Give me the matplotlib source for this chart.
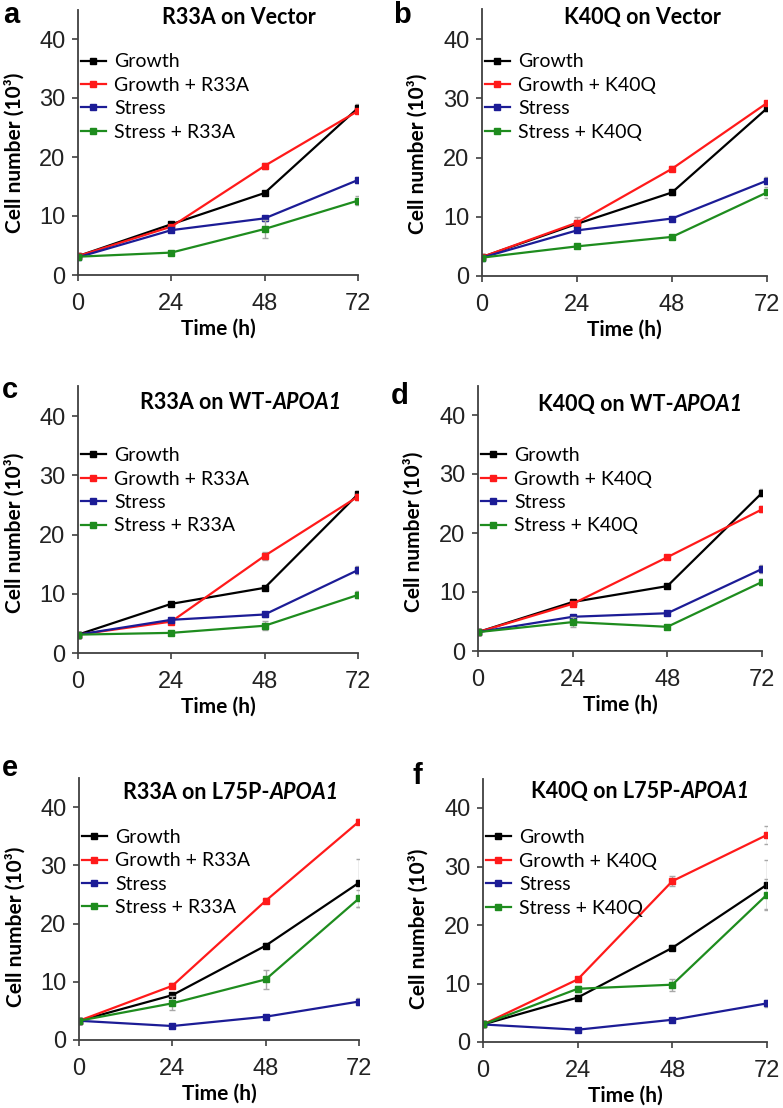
import matplotlib
matplotlib.use('Agg')
import matplotlib.pyplot as plt

# time points (h)
time_h = [0, 24, 48, 72]

# panel a: R33A on Vector
a_growth = [3.2, 8.6, 13.9, 28.3]
a_growth_mut = [3.2, 8.2, 18.5, 27.8]
a_stress = [3.0, 7.6, 9.6, 16.1]
a_stress_mut = [3.1, 3.8, 7.8, 12.6]
a_err = [[0.2, 0.4, 0.4, 0.6], [0.2, 0.3, 0.5, 0.4], [0.2, 0.3, 0.4, 0.5], [0.2, 0.3, 1.5, 0.8]]

# panel b: K40Q on Vector
b_growth = [3.2, 8.8, 14.1, 28.3]
b_growth_mut = [3.2, 9.0, 18.1, 29.2]
b_stress = [3.1, 7.7, 9.7, 16.1]
b_stress_mut = [3.1, 5.0, 6.6, 14.1]
b_err = [[0.2, 1.2, 0.4, 0.5], [0.2, 0.4, 0.4, 0.4], [0.2, 0.3, 0.3, 0.6], [0.2, 0.3, 0.4, 0.9]]

# panel c: R33A on WT-APOA1
c_growth = [3.1, 8.3, 11.0, 26.8]
c_growth_mut = [3.1, 5.3, 16.4, 26.4]
c_stress = [3.1, 5.6, 6.5, 14.0]
c_stress_mut = [3.1, 3.4, 4.6, 9.8]
c_err = [[0.2, 0.3, 0.3, 0.6], [0.2, 0.3, 0.7, 0.5], [0.2, 0.3, 0.4, 0.7], [0.2, 0.3, 0.8, 0.6]]

# panel d: K40Q on WT-APOA1
d_growth = [3.2, 8.3, 11.0, 26.8]
d_growth_mut = [3.2, 8.0, 15.9, 24.0]
d_stress = [3.2, 5.8, 6.4, 13.9]
d_stress_mut = [3.2, 4.9, 4.1, 11.7]
d_err = [[0.2, 0.3, 0.3, 0.6], [0.2, 0.3, 0.3, 0.5], [0.2, 0.3, 0.3, 0.7], [0.2, 0.8, 0.3, 0.5]]

# panel e: R33A on L75P-APOA1
e_growth = [3.3, 7.7, 16.2, 27.0]
e_growth_mut = [3.3, 9.3, 23.9, 37.5]
e_stress = [3.3, 2.4, 4.0, 6.6]
e_stress_mut = [3.3, 6.3, 10.4, 24.3]
e_err = [[0.2, 0.4, 0.4, 4.1], [0.2, 0.4, 0.4, 0.4], [0.2, 0.3, 0.3, 0.6], [0.2, 1.2, 1.6, 1.5]]

# panel f: K40Q on L75P-APOA1
f_growth = [3.0, 7.6, 16.1, 26.9]
f_growth_mut = [3.0, 10.7, 27.5, 35.4]
f_stress = [3.0, 2.1, 3.8, 6.6]
f_stress_mut = [3.0, 9.1, 9.8, 25.2]
f_err = [[0.2, 0.4, 0.4, 4.2], [0.2, 0.4, 0.8, 1.6], [0.2, 0.3, 0.3, 0.6], [0.2, 0.5, 1.0, 2.6]]

letters = ['a', 'b', 'c', 'd', 'e', 'f']
mutants = ['R33A', 'K40Q', 'R33A', 'K40Q', 'R33A', 'K40Q']
# title: upright bold part, bold-italic gene part
title_main = ['R33A on Vector', 'K40Q on Vector', 'R33A on WT-', 'K40Q on WT-',
              'R33A on L75P-', 'K40Q on L75P-']
title_gene = ['', '', 'APOA1', 'APOA1', 'APOA1', 'APOA1']

panels = [
    (a_growth, a_growth_mut, a_stress, a_stress_mut, a_err),
    (b_growth, b_growth_mut, b_stress, b_stress_mut, b_err),
    (c_growth, c_growth_mut, c_stress, c_stress_mut, c_err),
    (d_growth, d_growth_mut, d_stress, d_stress_mut, d_err),
    (e_growth, e_growth_mut, e_stress, e_stress_mut, e_err),
    (f_growth, f_growth_mut, f_stress, f_stress_mut, f_err),
]

colors = ['#000000', '#ff1a1a', '#1c1c96', '#1e8c1e']

W, H = 783, 1108
# axes boxes in pixels: left, right, y of zero, pixels per unit
boxes = [(78, 358, 275, 5.9), (482, 767, 276, 5.925),
         (78, 358, 653, 5.925), (478, 762, 651, 5.9),
         (79, 359, 1040, 5.825), (483, 767, 1042, 5.85)]
# title left edge (px) and centre y (axes fraction)
title_left = [162, 564, 140, 538, 123, 531]
title_y = [0.968, 0.968, 0.94, 0.93, 0.943, 0.95]
legend_top = [0.835, 0.835, 0.772, 0.768, 0.805, 0.808]
ylab_y = [0.46, 0.46, 0.45, 0.45, 0.43, 0.43]
letter_pos = [(11, 15), (402, 15), (10, 390), (400, 396), (10, 768), (417, 776)]
ymax = 45

label_font = 'Lato'
tick_font = 'Liberation Sans'

fig = plt.figure(figsize=(W / 100, H / 100), dpi=100)

for i, (g, gm, s, sm, err) in enumerate(panels):
    left, right, y0, ppu = boxes[i]
    h = ymax * ppu
    ax = fig.add_axes([left / W, 1 - y0 / H, (right - left) / W, h / H])
    names = ['Growth', 'Growth + ' + mutants[i], 'Stress', 'Stress + ' + mutants[i]]
    for vals, e, c, n in zip([g, gm, s, sm], err, colors, names):
        ax.errorbar(time_h, vals, yerr=e, fmt='none', ecolor='#a8a8a8', elinewidth=1,
                    capsize=2.5, capthick=1)
        ax.plot(time_h, vals, color=c, marker='s', markersize=5, lw=1.6, label=n)
    ax.set_xlim(0, 72)
    ax.set_ylim(0, ymax)
    ax.set_xticks(time_h)
    ax.set_yticks([0, 10, 20, 30, 40])
    for sp in ['top', 'right']:
        ax.spines[sp].set_visible(False)
    for sp in ['left', 'bottom']:
        ax.spines[sp].set_color('#404040')
        ax.spines[sp].set_linewidth(1.3)
    ax.tick_params(direction='out', length=4, width=1.2, color='#404040', labelsize=17)
    ax.tick_params(axis='x', pad=9)
    ax.tick_params(axis='y', pad=5)
    for lab in ax.get_xticklabels() + ax.get_yticklabels():
        lab.set_family(tick_font)
        lab.set_color('#222222')
    ax.set_xlabel('Time (h)', fontsize=15, fontweight='bold', family=label_font)
    ax.xaxis.set_label_coords(0.5, -0.165)
    ax.set_ylabel('Cell number (10³)', fontsize=15, fontweight='bold', family=label_font)
    ax.yaxis.set_label_coords(-0.19, ylab_y[i])

    # title drawn as two pieces so the gene name can be bold italic
    t1 = fig.text(title_left[i] / W, 0, title_main[i], ha='left', va='center',
                  fontsize=15.5, fontweight='bold', family=label_font)
    t1.set_transform(matplotlib.transforms.blended_transform_factory(fig.transFigure, ax.transAxes))
    t1.set_position((title_left[i] / W, title_y[i]))
    if title_gene[i]:
        ax.annotate(title_gene[i], xy=(1, 0.5), xycoords=t1, ha='left', va='center',
                    fontsize=15.5, fontweight='bold', style='italic', family=label_font)

    leg = ax.legend(loc='upper left', bbox_to_anchor=(0.01, legend_top[i]), frameon=False,
                    prop={'family': label_font, 'size': 14}, handlelength=1.3,
                    handletextpad=0.4, labelspacing=0.33, borderaxespad=0, borderpad=0)
    lx, ly = letter_pos[i]
    fig.text(lx / W, 1 - ly / H, letters[i], ha='center', va='center',
             fontsize=21, fontweight='bold', family=tick_font)

fig.savefig('out.png', dpi=100)
